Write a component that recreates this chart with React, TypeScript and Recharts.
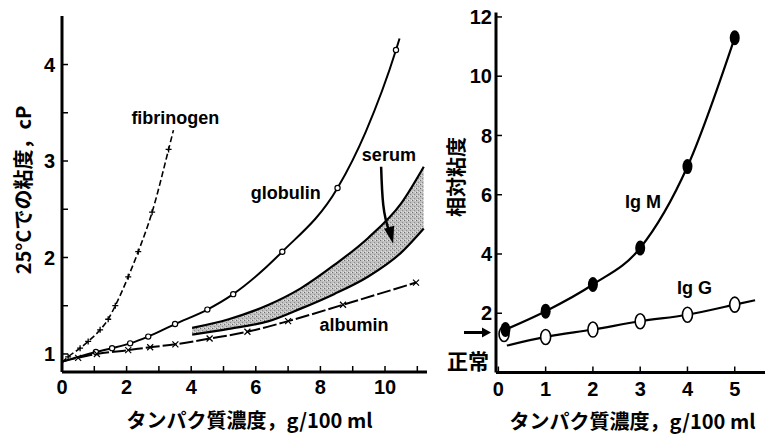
import React from 'react';
import {ComposedChart, Line, Area, XAxis, YAxis, Label, ReferenceDot} from 'recharts';

const LATIN = "'Liberation Sans', Arial, 'Noto Sans CJK JP', sans-serif";
const CJK = "'Noto Sans CJK JP', 'Liberation Sans', sans-serif";

// left panel: viscosity at 25°C (cP) vs protein concentration
const fibX = [0, 0.19, 0.56, 0.81, 1.18, 1.43, 1.65, 2.05, 2.36, 2.79, 3.3, 3.45];
const fibY = [0.91, 0.97, 1.06, 1.13, 1.25, 1.36, 1.5, 1.8, 2.06, 2.47, 3.12, 3.32];
const fibMark = [0, 1, 1, 1, 1, 1, 1, 1, 1, 1, 1, 0];

const gloX = [0, 0.5, 1.05, 1.55, 2.11, 2.67, 3.5, 4.5, 5.3, 6.82, 8.53, 9.4, 10.34, 10.45];
const gloY = [0.92, 0.97, 1.02, 1.06, 1.11, 1.18, 1.31, 1.46, 1.62, 2.06, 2.72, 3.3, 4.15, 4.27];
const gloMark = [0, 0, 1, 1, 1, 1, 1, 1, 1, 1, 1, 0, 1, 0];

const albX = [0, 0.5, 1.08, 2.05, 2.73, 3.51, 4.57, 5.74, 7.0, 8.7, 10.96];
const albY = [0.92, 0.96, 1.0, 1.04, 1.07, 1.1, 1.16, 1.23, 1.34, 1.51, 1.74];
const albMark = [0, 1, 1, 1, 1, 1, 1, 1, 1, 1, 1];

const serX = [4.03, 5.16, 6.4, 7.39, 8.42, 9.47, 10.5, 11.2];
const serHi = [1.27, 1.36, 1.51, 1.68, 1.92, 2.2, 2.56, 2.94];
const serLo = [1.2, 1.26, 1.34, 1.47, 1.62, 1.8, 2.05, 2.3];

const leftXTicks = [0, 1, 2, 3, 4, 5, 6, 7, 8, 9, 10, 11];
const leftYTicks = [1, 1.5, 2, 2.5, 3, 3.5, 4];

// right panel: relative viscosity of IgM / IgG
const igmX = [0.15, 1, 2, 3, 4, 5];
const igmY = [1.45, 2.07, 2.97, 4.2, 6.95, 11.3];
const iggX = [0.18, 1, 2, 3, 4, 5, 5.43];
const iggY = [0.91, 1.2, 1.45, 1.73, 1.95, 2.29, 2.44];
const iggMark = [0, 1, 1, 1, 1, 1, 0];
const normalPt = {x: 0.12, y: 1.3};

const rightXTicks = [0, 1, 2, 3, 4, 5];
const rightYTicks = [2, 4, 6, 8, 10, 12];

const toPts = (xs: number[], ys: number[], marks?: number[]) =>
  xs.map((x, i) => ({x, y: ys[i], m: marks ? marks[i] === 1 : true}));

const fibData = toPts(fibX, fibY, fibMark);
const gloData = toPts(gloX, gloY, gloMark);
const albData = toPts(albX, albY, albMark);
const serData = serX.map((x, i) => ({x, band: [serLo[i], serHi[i]], lo: serLo[i], hi: serHi[i]}));
const igmData = toPts(igmX, igmY);
const iggData = toPts(iggX, iggY, iggMark);

const mark = (kind: string) => (p: any) => {
  const {cx, cy, payload, index} = p;
  if (!payload?.m || cx == null) return <g key={index} />;
  if (kind === 'plus')
    return (
      <path key={index} d={`M${cx - 3},${cy}H${cx + 3}M${cx},${cy - 3}V${cy + 3}`} stroke="#000" strokeWidth={1.3} />
    );
  if (kind === 'cross')
    return (
      <path
        key={index}
        d={`M${cx - 3},${cy - 3}L${cx + 3},${cy + 3}M${cx - 3},${cy + 3}L${cx + 3},${cy - 3}`}
        stroke="#000"
        strokeWidth={1.2}
      />
    );
  if (kind === 'circle')
    return <circle key={index} cx={cx} cy={cy} r={2.6} fill="#fff" stroke="#000" strokeWidth={1.2} />;
  if (kind === 'filled') return <ellipse key={index} cx={cx} cy={cy} rx={5} ry={7.5} fill="#000" />;
  return <ellipse key={index} cx={cx} cy={cy} rx={5} ry={7.5} fill="#fff" stroke="#000" strokeWidth={1.6} />;
};

const tickStyle = {fill: '#000', fontSize: 20, fontWeight: 700, fontFamily: LATIN};
const axisLine = {stroke: '#000', strokeWidth: 3};
const tickLine = {stroke: '#000', strokeWidth: 1.5};

const textAt = (label: string, size = 18) => (p: any) => (
  <text
    x={p.cx}
    y={p.cy}
    textAnchor="middle"
    dominantBaseline="central"
    fontFamily={LATIN}
    fontWeight={700}
    fontSize={size}
    fill="#000">
    {label}
  </text>
);

const xTitle = (dx: number) => (p: any) => {
  const vb = p.viewBox || {x: 0, y: 0, width: 0, height: 0};
  return (
    <text
      x={vb.x + vb.width / 2 + dx}
      y={vb.y + 56}
      textAnchor="middle"
      fontFamily={CJK}
      fontWeight={700}
      fontSize={20}
      fill="#000">
      タンパク質濃度，g/100 ml
    </text>
  );
};

const yTitle = (label: string, x: number, y: number) => () => (
  <text
    x={x}
    y={y}
    transform={`rotate(-90 ${x} ${y})`}
    textAnchor="middle"
    fontFamily={CJK}
    fontWeight={700}
    fontSize={20}
    fill="#000">
    {label}
  </text>
);

const serumArrow = (p: any) => {
  const {cx, cy} = p;
  return (
    <g>
      <path d={`M${cx},${cy} C${cx + 1},${cy + 32} ${cx + 2},${cy + 48} ${cx + 8},${cy + 64}`} stroke="#000" strokeWidth={2.5} fill="none" />
      <polygon points={`${cx + 12},${cy + 77} ${cx + 3},${cy + 62} ${cx + 13},${cy + 59}`} fill="#000" />
    </g>
  );
};

const normalArrow = (p: any) => {
  const {cx, cy} = p;
  return (
    <g>
      <line x1={cx - 32} y1={cy} x2={cx - 12} y2={cy} stroke="#000" strokeWidth={3} />
      <polygon points={`${cx - 5},${cy} ${cx - 14},${cy - 5} ${cx - 14},${cy + 5}`} fill="#000" />
      <text
        x={cx - 28}
        y={cy + 27}
        textAnchor="middle"
        dominantBaseline="central"
        fontFamily={CJK}
        fontWeight={700}
        fontSize={21}
        fill="#000">
        正常
      </text>
    </g>
  );
};

export default function App() {
  return (
    <div style={{position: 'absolute', left: 0, top: 0, width: 769, height: 435, background: '#fff', fontFamily: LATIN}}>
      <div style={{position: 'absolute', left: 0, top: 0}}>
        <ComposedChart width={440} height={435} data={serData} margin={{top: 16, right: 13, left: 0, bottom: 33}}>
          <defs>
            <pattern id="speckle" width="4" height="4" patternUnits="userSpaceOnUse">
              <rect width="4" height="4" fill="#c0c0c0" />
              <rect x="0" y="0" width="1" height="1" fill="#6e6e6e" />
              <rect x="2" y="2" width="1" height="1" fill="#8a8a8a" />
              <rect x="3" y="0" width="1" height="1" fill="#e8e8e8" />
              <rect x="1" y="3" width="1" height="1" fill="#e0e0e0" />
            </pattern>
          </defs>
          <XAxis
            dataKey="x"
            type="number"
            domain={[0, 11.3]}
            ticks={leftXTicks}
            tickFormatter={(v: number) => (v % 2 === 0 ? String(v) : '')}
            allowDataOverflow
            height={30}
            axisLine={axisLine}
            tickLine={tickLine}
            tickSize={-6}
            tickMargin={14}
            tick={tickStyle}
            interval={0}>
            <Label content={xTitle(5)} />
          </XAxis>
          <YAxis
            type="number"
            domain={[0.813, 4.503]}
            ticks={leftYTicks}
            tickFormatter={(v: number) => (Number.isInteger(v) ? String(v) : '')}
            allowDataOverflow
            width={62}
            axisLine={axisLine}
            tickLine={tickLine}
            tickSize={-6}
            tickMargin={13}
            tick={tickStyle}
            interval={0}>
            <Label content={yTitle('25°Cでの粘度，cP', 31, 190)} />
          </YAxis>
          <Area dataKey="band" type="monotone" fill="url(#speckle)" fillOpacity={1} stroke="none" isAnimationActive={false} />
          <Line dataKey="hi" type="monotone" stroke="#000" strokeWidth={2.2} dot={false} activeDot={false} isAnimationActive={false} />
          <Line dataKey="lo" type="monotone" stroke="#000" strokeWidth={2.2} dot={false} activeDot={false} isAnimationActive={false} />
          <Line data={fibData} dataKey="y" type="monotone" stroke="#000" strokeWidth={1.6} strokeDasharray="6 3" dot={mark('plus')} activeDot={false} isAnimationActive={false} />
          <Line data={gloData} dataKey="y" type="monotone" stroke="#000" strokeWidth={2} dot={mark('circle')} activeDot={false} isAnimationActive={false} />
          <Line data={albData} dataKey="y" type="monotone" stroke="#000" strokeWidth={2} strokeDasharray="14 3" dot={mark('cross')} activeDot={false} isAnimationActive={false} />
          <ReferenceDot x={3.51} y={3.45} r={0} shape={textAt('fibrinogen')} />
          <ReferenceDot x={6.93} y={2.67} r={0} shape={textAt('globulin')} />
          <ReferenceDot x={10.12} y={3.06} r={0} shape={textAt('serum')} />
          <ReferenceDot x={9.04} y={1.3} r={0} shape={textAt('albumin')} />
          <ReferenceDot x={9.88} y={2.94} r={0} shape={serumArrow} />
        </ComposedChart>
      </div>
      <div style={{position: 'absolute', left: 440, top: 0}}>
        <ComposedChart
          width={329}
          height={435}
          data={igmData}
          style={{overflow: 'visible'}}
          margin={{top: 12.5, right: 4, left: 0, bottom: 32.5}}>
          <XAxis
            dataKey="x"
            type="number"
            domain={[-0.05, 5.64]}
            ticks={rightXTicks}
            allowDataOverflow
            height={30}
            axisLine={axisLine}
            tickLine={tickLine}
            tickSize={-6}
            tickMargin={15}
            tick={tickStyle}
            interval={0}>
            <Label content={xTitle(2)} />
          </XAxis>
          <YAxis
            type="number"
            domain={[0, 12.15]}
            ticks={rightYTicks}
            allowDataOverflow
            width={56}
            axisLine={axisLine}
            tickLine={tickLine}
            tickSize={-6}
            tickMargin={10}
            tick={tickStyle}
            interval={0}>
            <Label content={yTitle('相対粘度', 24, 177)} />
          </YAxis>
          <Line data={iggData} dataKey="y" type="monotone" stroke="#000" strokeWidth={2.2} dot={mark('open')} activeDot={false} isAnimationActive={false} />
          <ReferenceDot x={normalPt.x} y={normalPt.y} r={5} shape={(p: any) => mark('open')({...p, payload: {m: true}, index: 0})} />
          <Line dataKey="y" type="monotone" stroke="#000" strokeWidth={2.2} dot={mark('filled')} activeDot={false} isAnimationActive={false} />
          <ReferenceDot x={3.06} y={5.76} r={0} shape={textAt('Ig M')} />
          <ReferenceDot x={4.15} y={2.86} r={0} shape={textAt('Ig G')} />
          <ReferenceDot x={-0.05} y={1.35} r={0} ifOverflow="visible" shape={normalArrow} />
        </ComposedChart>
      </div>
    </div>
  );
}
